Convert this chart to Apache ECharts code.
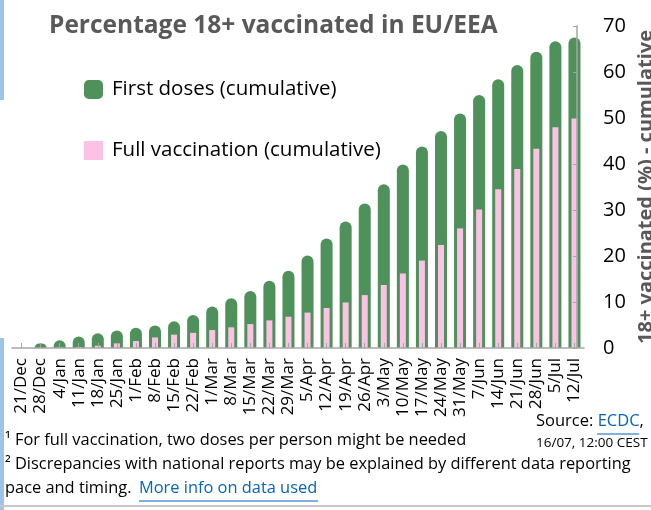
<!DOCTYPE html>
<html>
<head>
<meta charset="utf-8">
<title>Percentage 18+ vaccinated in EU/EEA</title>
<script src="https://cdn.jsdelivr.net/npm/echarts@6/dist/echarts.min.js"></script>
<style>
	html, body { margin: 0; padding: 0; background: #fff; }
	#chart { width: 651px; height: 510px; }
</style>
</head>
<body>
<div id="chart"></div>
<script>
	//周次标签
	var weeks = ['21/Dec', '28/Dec', '4/Jan', '11/Jan', '18/Jan', '25/Jan', '1/Feb', '8/Feb', '15/Feb', '22/Feb',
		'1/Mar', '8/Mar', '15/Mar', '22/Mar', '29/Mar', '5/Apr', '12/Apr', '19/Apr', '26/Apr', '3/May',
		'10/May', '17/May', '24/May', '31/May', '7/Jun', '14/Jun', '21/Jun', '28/Jun', '5/Jul', '12/Jul'];
	//第一剂(累计 %)
	var firstDoses = [0, 1.0, 1.7, 2.5, 3.2, 3.8, 4.4, 4.9, 5.8, 7.2,
		9.0, 10.8, 12.4, 14.6, 16.8, 20.1, 23.8, 27.5, 31.4, 35.6,
		39.9, 43.8, 47.2, 51.0, 55.0, 58.4, 61.5, 64.4, 66.7, 67.5];
	//完全接种(累计 %)
	var fullVacc = [0, 0, 0.1, 0.2, 0.5, 1.0, 1.5, 2.3, 2.9, 3.3,
		3.9, 4.5, 5.2, 6.0, 6.8, 7.7, 8.7, 9.9, 11.5, 13.7,
		16.2, 19.0, 22.4, 26.0, 30.1, 34.5, 38.9, 43.3, 48.0, 49.9];
	var yTicks = [0, 10, 20, 30, 40, 50, 60, 70];

	var FONT = '"Open Sans", "Noto Sans", sans-serif';
	var GREEN = '#4f915a', PINK = '#fcc2e5', AXIS = '#a6a6a6', LINK = '#0563c1';

	var myChart = echarts.init(document.getElementById('chart'));
	var catAxis = {
		type: 'category', data: weeks, boundaryGap: true,
		axisLine: { show: true, lineStyle: { color: AXIS, width: 1.5 } },
		axisTick: { show: true, inside: true, length: 5, alignWithLabel: true, lineStyle: { color: AXIS } },
		axisLabel: { interval: 0, rotate: 90, margin: 10, fontSize: 17, color: '#000', fontFamily: FONT },
		z: 10
	};
	var option = {
		backgroundColor: '#fff',
		animation: false,
		title: {
			text: 'Percentage 18+ vaccinated in EU/EEA',
			left: 44, top: 9,
			textStyle: { fontSize: 24.5, fontWeight: 'bold', color: '#595959', fontFamily: FONT }
		},
		legend: {
			orient: 'vertical', left: 79, top: 74,
			itemWidth: 19, itemHeight: 19, itemGap: 40,
			textStyle: { fontSize: 20.5, color: '#000', fontFamily: FONT, padding: [0, 0, 0, 4] },
			data: [
				{ name: 'First doses (cumulative)', icon: 'roundRect' },
				{ name: 'Full vaccination (cumulative)', icon: 'rect' }
			]
		},
		grid: { left: 12, right: 67, top: 26, bottom: 162, outerBoundsMode: 'none' },
		xAxis: [catAxis, Object.assign({}, catAxis, { show: false })],
		yAxis: {
			type: 'value', position: 'right', offset: -7, min: 0, max: 70, interval: 10,
			name: '18+ vaccinated (%) - cumulative', nameLocation: 'middle', nameRotate: 90, nameGap: 50,
			nameTextStyle: { fontSize: 20, fontWeight: 'bold', color: '#595959', fontFamily: FONT },
			axisLine: { show: true, lineStyle: { color: AXIS, width: 1.5 } },
			axisTick: { show: true, inside: true, length: 4, lineStyle: { color: AXIS } },
			splitLine: { show: false },
			axisLabel: {
				margin: 26, fontSize: 20, color: '#000', fontFamily: FONT,
				formatter: function (v) { return yTicks.indexOf(v) > -1 ? String(v) : ''; }
			},
			z: 10
		},
		series: [{
			name: 'First doses (cumulative)', type: 'bar', xAxisIndex: 0,
			data: firstDoses, barWidth: 12,
			itemStyle: { color: GREEN, borderRadius: [6, 6, 0, 0] }
		}, {
			name: 'Full vaccination (cumulative)', type: 'bar', xAxisIndex: 1,
			data: fullVacc, barWidth: 6,
			itemStyle: { color: PINK }
		}],
		graphic: [
			//左侧装饰条
			{ type: 'rect', shape: { x: 0, y: 0, width: 4, height: 100 }, style: { fill: '#9dc3e6' } },
			{ type: 'rect', shape: { x: 0, y: 338, width: 4, height: 172 }, style: { fill: '#9dc3e6' } },
			{ type: 'line', shape: { x1: 0, y1: 506, x2: 651, y2: 506 }, style: { stroke: '#c8c8c8', lineWidth: 2 } },
			//来源
			{
				type: 'text', left: 536, top: 413,
				style: {
					text: 'Source: {a|ECDC},', fontSize: 16.5, fill: '#000', fontFamily: FONT,
					rich: { a: { fontSize: 16.5, fill: LINK, fontFamily: FONT } }
				}
			},
			{ type: 'line', shape: { x1: 597, y1: 434, x2: 639, y2: 434 }, style: { stroke: LINK, lineWidth: 1 } },
			{
				type: 'text', left: 536, top: 436,
				style: { text: '16/07, 12:00 CEST', fontSize: 13.5, fill: '#000', fontFamily: FONT }
			},
			//脚注
			{
				type: 'text', left: 5, top: 432,
				style: { text: '¹ For full vaccination, two doses per person might be needed', fontSize: 16.4, fill: '#000', fontFamily: FONT }
			},
			{
				type: 'text', left: 5, top: 456,
				style: { text: '² Discrepancies with national reports may be explained by different data reporting', fontSize: 16.4, fill: '#000', fontFamily: FONT }
			},
			{
				type: 'text', left: 5, top: 480,
				style: { text: 'pace and timing. ', fontSize: 16.4, fill: '#000', fontFamily: FONT }
			},
			{
				type: 'text', left: 139, top: 480,
				style: { text: 'More info on data used', fontSize: 16.4, fill: LINK, fontFamily: FONT }
			},
			{ type: 'line', shape: { x1: 139, y1: 501, x2: 318, y2: 501 }, style: { stroke: LINK, lineWidth: 1 } }
		]
	};
	myChart.setOption(option);
</script>
</body>
</html>
